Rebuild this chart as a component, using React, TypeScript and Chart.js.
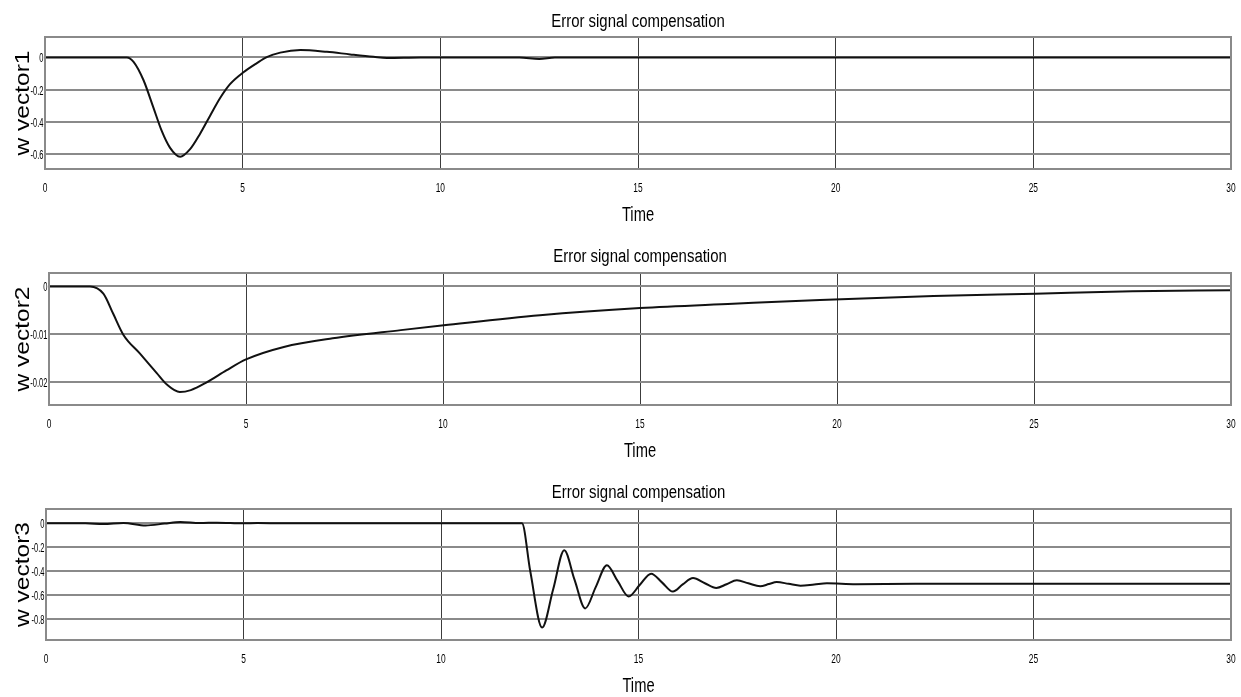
import React, { useEffect, useRef } from "react";
import { Chart, registerables } from "chart.js";

Chart.register(...registerables);

// ---- data ----
const chartTitle = "Error signal compensation";
const xAxisTitle = "Time";
const xTicks = [0, 5, 10, 15, 20, 25, 30];

const w1Label = "w vector1";
const w1Time = [0, 1, 2.07, 2.24, 2.49, 2.74, 2.95, 3.16, 3.42, 3.67, 3.92, 4.18, 4.43, 4.68, 5.02, 5.36, 5.61, 5.95, 6.46, 7.13, 7.72, 8.31, 8.65, 9.5, 12.0, 12.5, 12.9, 15, 20, 25, 30];
const w1Value = [0, 0, 0, -0.027, -0.14, -0.31, -0.455, -0.56, -0.617, -0.57, -0.475, -0.36, -0.252, -0.166, -0.092, -0.035, 0.002, 0.03, 0.046, 0.035, 0.019, 0.004, -0.003, 0, 0, -0.01, 0, 0, 0, 0, 0];
const w1Ticks = [-0.6, -0.4, -0.2, 0];
const w1Range = [-0.693, 0.127];

const w2Label = "w vector2";
const w2Time = [0, 1.04, 1.38, 1.63, 1.89, 2.31, 2.73, 3.0, 3.32, 3.6, 4.0, 4.5, 5.0, 5.96, 7.2, 8.93, 10.02, 12.46, 15.0, 17.36, 19.57, 22.45, 25.03, 27.5, 30];
const w2Value = [0, 0, -0.0015, -0.0057, -0.0101, -0.014, -0.018, -0.0205, -0.022, -0.0216, -0.02, -0.0175, -0.0152, -0.0126, -0.0108, -0.0091, -0.0081, -0.006, -0.0045, -0.0036, -0.0028, -0.002, -0.0015, -0.001, -0.0008];
const w2Ticks = [-0.02, -0.01, 0];
const w2Range = [-0.0247, 0.0028];

const w3Label = "w vector3";
const w3Time = [0, 1.0, 1.45, 1.96, 2.52, 3.0, 3.4, 3.9, 4.33, 5.0, 5.35, 6.0, 7.0, 8.0, 10.0, 12.05, 12.26, 12.56, 12.84, 13.12, 13.38, 13.65, 13.92, 14.2, 14.47, 14.75, 15.03, 15.32, 15.6, 15.87, 16.12, 16.38, 16.68, 16.97, 17.23, 17.49, 17.78, 18.08, 18.3, 18.5, 18.8, 19.1, 19.45, 19.77, 20.5, 22, 25, 30];
const w3Value = [0, 0, -0.006, 0.004, -0.018, -0.002, 0.012, 0.003, 0.006, 0, 0.003, 0, 0.002, 0, 0, 0, -0.4, -0.87, -0.55, -0.224, -0.47, -0.71, -0.53, -0.35, -0.48, -0.61, -0.515, -0.42, -0.495, -0.57, -0.51, -0.457, -0.5, -0.54, -0.508, -0.476, -0.5, -0.525, -0.507, -0.49, -0.505, -0.52, -0.51, -0.5, -0.508, -0.505, -0.505, -0.505];
const w3Ticks = [-0.8, -0.6, -0.4, -0.2, 0];
const w3Range = [-0.974, 0.12];

// ---- styling ----
const fontFamily = "'Liberation Sans', Arial, Helvetica, sans-serif";
const hGridColor = "#8a8a8a";
const vGridColor = "#3c3c3c";
const WIDTH = 1241;
const PLOT_RIGHT = 1231;

type PanelLayout = {
  top: number; // canvas top on the page
  height: number; // canvas height
  plotTop: number; // page coordinates of the plot box
  plotBottom: number;
  plotLeft: number;
  titleGap: number; // title baseline above the plot box
};

// Horizontally condensed text, in the style of the original plotting tool.
function condensed(ctx: CanvasRenderingContext2D, text: string, x: number, y: number, sx: number, align: CanvasTextAlign) {
  ctx.save();
  ctx.translate(x, y);
  ctx.scale(sx, 1);
  ctx.textAlign = align;
  ctx.textBaseline = "alphabetic";
  ctx.fillText(text, 0, 0);
  ctx.restore();
}

const panelText = {
  id: "panelText",
  afterDraw(chart: any, _args: any, opts: any) {
    const { ctx, chartArea, scales } = chart;
    const { left, right, top, bottom } = chartArea;
    ctx.save();
    // plot frame
    ctx.strokeStyle = hGridColor;
    ctx.lineWidth = 2;
    ctx.strokeRect(left, top, right - left, bottom - top);

    ctx.fillStyle = "#000";
    // title
    ctx.font = `18px ${fontFamily}`;
    condensed(ctx, opts.title, (left + right) / 2, top - opts.titleGap, 0.83, "center");

    // x tick labels
    ctx.font = `13.5px ${fontFamily}`;
    for (const v of opts.xTicks) {
      condensed(ctx, String(v), scales.x.getPixelForValue(v), bottom + 23, 0.62, "center");
    }
    // y tick labels
    ctx.font = `13px ${fontFamily}`;
    for (const v of opts.yTicks) {
      condensed(ctx, String(v), left - 1.5, scales.y.getPixelForValue(v) + 5, 0.58, "right");
    }
    // x axis title
    ctx.font = `21px ${fontFamily}`;
    condensed(ctx, opts.xTitle, (left + right) / 2, bottom + 52, 0.7, "center");

    // y axis title (rotated, reading upwards)
    ctx.font = `24.5px ${fontFamily}`;
    ctx.save();
    ctx.translate(28.5, (top + bottom) / 2);
    ctx.rotate(-Math.PI / 2);
    ctx.scale(1, 0.85);
    ctx.textAlign = "center";
    ctx.textBaseline = "alphabetic";
    ctx.fillText(opts.yTitle, 0, 0);
    ctx.restore();

    ctx.restore();
  },
};

function makeConfig(time: number[], values: number[], yLabel: string, yTicks: number[], yRange: number[], L: PanelLayout): any {
  return {
    type: "line",
    data: {
      datasets: [
        {
          data: time.map((t, i) => ({ x: t, y: values[i] })),
          borderColor: "#111",
          borderWidth: 2,
          pointRadius: 0,
          cubicInterpolationMode: "monotone",
          fill: false,
        },
      ],
    },
    options: {
      responsive: false,
      animation: false,
      events: [],
      layout: {
        padding: {
          left: L.plotLeft,
          right: WIDTH - PLOT_RIGHT,
          top: L.plotTop - L.top,
          bottom: L.top + L.height - L.plotBottom,
        },
      },
      plugins: {
        legend: { display: false },
        tooltip: { enabled: false },
        title: { display: false },
        panelText: {
          title: chartTitle,
          titleGap: L.titleGap,
          xTitle: xAxisTitle,
          yTitle: yLabel,
          xTicks,
          yTicks,
        },
      },
      scales: {
        x: {
          type: "linear",
          min: 0,
          max: 30,
          afterBuildTicks: (axis: any) => {
            axis.ticks = xTicks.map((v) => ({ value: v }));
          },
          afterFit: (axis: any) => {
            axis.height = 0;
          },
          grid: { color: vGridColor, lineWidth: 1, drawTicks: false },
          border: { display: false },
          ticks: { display: false },
        },
        y: {
          type: "linear",
          min: yRange[0],
          max: yRange[1],
          afterBuildTicks: (axis: any) => {
            axis.ticks = yTicks.map((v) => ({ value: v }));
          },
          afterFit: (axis: any) => {
            axis.width = 0;
          },
          grid: { color: hGridColor, lineWidth: 2, drawTicks: false },
          border: { display: false },
          ticks: { display: false },
        },
      },
    },
    plugins: [panelText],
  };
}

function Panel(props: { time: number[]; values: number[]; label: string; ticks: number[]; range: number[]; layout: PanelLayout }) {
  const ref = useRef<HTMLCanvasElement | null>(null);
  const { time, values, label, ticks, range, layout } = props;
  useEffect(() => {
    if (!ref.current) return;
    const chart = new Chart(ref.current, makeConfig(time, values, label, ticks, range, layout));
    return () => chart.destroy();
  }, []);
  return (
    <canvas
      ref={ref}
      width={WIDTH}
      height={layout.height}
      style={{ position: "absolute", left: 0, top: layout.top, width: WIDTH, height: layout.height }}
    />
  );
}

const layout1: PanelLayout = { top: 0, height: 232, plotTop: 37, plotBottom: 169, plotLeft: 45, titleGap: 10 };
const layout2: PanelLayout = { top: 232, height: 233, plotTop: 273, plotBottom: 405, plotLeft: 49, titleGap: 11 };
const layout3: PanelLayout = { top: 465, height: 232, plotTop: 509, plotBottom: 640, plotLeft: 46, titleGap: 11.5 };

export default function App() {
  return (
    <div style={{ position: "absolute", left: 0, top: 0, width: WIDTH, height: 697, background: "#fff", overflow: "hidden" }}>
      <Panel time={w1Time} values={w1Value} label={w1Label} ticks={w1Ticks} range={w1Range} layout={layout1} />
      <Panel time={w2Time} values={w2Value} label={w2Label} ticks={w2Ticks} range={w2Range} layout={layout2} />
      <Panel time={w3Time} values={w3Value} label={w3Label} ticks={w3Ticks} range={w3Range} layout={layout3} />
    </div>
  );
}
